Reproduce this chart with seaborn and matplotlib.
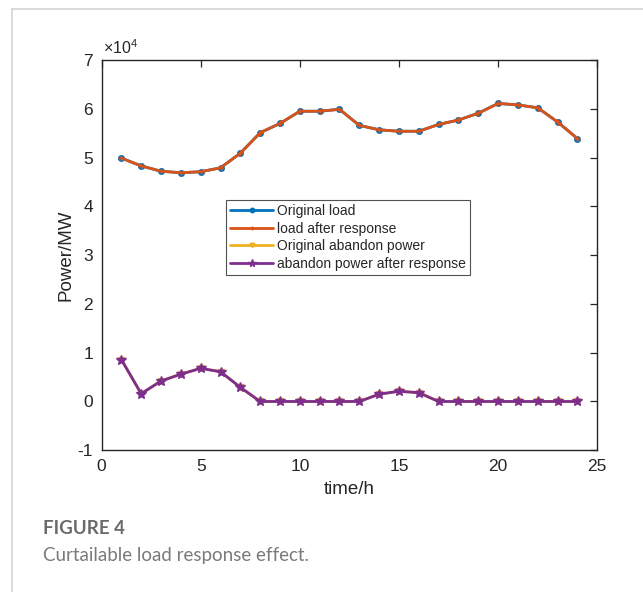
import numpy as np
import pandas as pd
import seaborn as sns
import matplotlib
matplotlib.use("Agg")
import matplotlib.pyplot as plt
from matplotlib.ticker import FuncFormatter, MultipleLocator
from matplotlib.lines import Line2D

hours = list(range(1, 25))
original_load = [49900, 48300, 47200, 46900, 47100, 47900, 50900, 55100, 57000, 59500,
                 59500, 59900, 56600, 55700, 55400, 55400, 56800, 57700, 59100, 61100,
                 60800, 60200, 57300, 53900]
load_after = [49900, 48300, 47200, 46900, 47100, 47900, 50900, 55100, 57000, 59500,
              59500, 59900, 56600, 55700, 55400, 55400, 56800, 57700, 59100, 61100,
              60800, 60200, 57300, 53900]
original_abandon = [8600, 1600, 4200, 5600, 6800, 6100, 2900, 0, 0, 0, 0, 0, 0,
                    1500, 2100, 1800, 0, 0, 0, 0, 0, 0, 0, 0]
abandon_after = [8600, 1600, 4200, 5600, 6800, 6100, 2900, 0, 0, 0, 0, 0, 0,
                 1500, 2100, 1800, 0, 0, 0, 0, 0, 0, 0, 0]
labels = ["Original load", "load after response", "Original abandon power",
          "abandon power after response"]
colors = ["#0072BD", "#D95319", "#EDB120", "#7E2F8E"]
markers = ["o", "+", "v", "*"]
msizes = [4, 4, 4, 7]

sns.set_style("white")
plt.rcParams["font.family"] = ["Liberation Sans", "DejaVu Sans"]
plt.rcParams["axes.unicode_minus"] = False
plt.rcParams["mathtext.fontset"] = "custom"
plt.rcParams["mathtext.rm"] = "Liberation Sans"
plt.rcParams["mathtext.it"] = "Liberation Sans:italic"
plt.rcParams["mathtext.bf"] = "Liberation Sans:bold"

fig = plt.figure(figsize=(6.43, 5.92), dpi=100)
ax = fig.add_axes([0.1579, 0.2394, 0.771, 0.6592])

series = [original_load, load_after, original_abandon, abandon_after]
handles = []
for lab, vals, c, m, ms in zip(labels, series, colors, markers, msizes):
    df = pd.DataFrame({"time": hours, "power": vals})
    sns.lineplot(data=df, x="time", y="power", ax=ax, color=c, marker=m,
                 markersize=ms, linewidth=2.0, markeredgecolor=c,
                 markeredgewidth=1.0, legend=False)
    handles.append(Line2D([], [], color=c, marker=m, markersize=ms * 0.8,
                          linewidth=2.0, markeredgecolor=c, label=lab))

ax.set_xlim(0, 25)
ax.set_ylim(-10000, 70000)
ax.xaxis.set_major_locator(MultipleLocator(5))
ax.yaxis.set_major_locator(MultipleLocator(10000))
ax.yaxis.set_major_formatter(FuncFormatter(lambda v, p: f"{v / 1e4:g}"))
ax.text(0.003, 1.008, r"$\times$10$^{4}$", transform=ax.transAxes, fontsize=11.5,
        color="#262626", ha="left", va="bottom")

ax.tick_params(direction="in", length=5, width=0.9, top=True, right=True,
               labelsize=12.5, colors="#262626", pad=6)
for sp in ax.spines.values():
    sp.set_visible(True)
    sp.set_color("#262626")
    sp.set_linewidth(1.0)

ax.set_xlabel("time/h", fontsize=13.5, color="#262626", labelpad=5)
ax.set_ylabel("Power/MW", fontsize=13.5, color="#262626", labelpad=2)

leg = ax.legend(handles=handles, loc="upper left", bbox_to_anchor=(0.251, 0.641),
                fontsize=10, frameon=True, fancybox=False, handlelength=3.1,
                handletextpad=0.3, borderpad=0.3, labelspacing=0.25,
                borderaxespad=0)
leg.get_frame().set_edgecolor("#262626")
leg.get_frame().set_linewidth(0.8)

# page border lines
fig.add_artist(Line2D([12 / 643, 12 / 643], [0, 1 - 9 / 592], color="#d4d4d4",
                      linewidth=1.2, transform=fig.transFigure))
fig.add_artist(Line2D([12 / 643, 1], [1 - 9 / 592, 1 - 9 / 592], color="#d4d4d4",
                      linewidth=1.2, transform=fig.transFigure))

fig.text(43 / 643, 1 - 528 / 592, "FIGURE 4", fontsize=13.5, fontweight="bold",
         color="#6b6b6b", family=["Lato", "DejaVu Sans"], va="center")
fig.text(43 / 643, 1 - 555 / 592, "Curtailable load response effect.", fontsize=13.5,
         color="#7a7a7a", family=["Lato", "DejaVu Sans"], va="center")

fig.savefig("out.png", dpi=100)
